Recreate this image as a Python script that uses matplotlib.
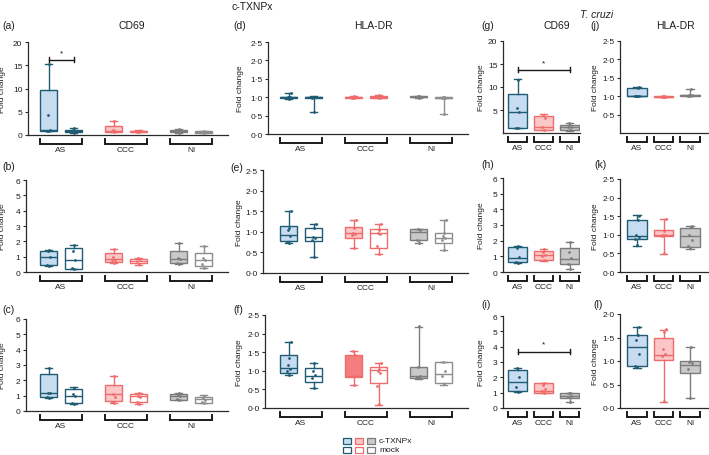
import matplotlib
matplotlib.use('Agg')
import matplotlib.pyplot as plt
from matplotlib.patches import Rectangle
from matplotlib.lines import Line2D
import numpy as np

plt.rcParams['font.family'] = ['Liberation Sans', 'DejaVu Sans']

# ------------------------------------------------------------------ data
groups = ['AS', 'CCC', 'NI']
legend_labels = ['c-TXNPx', 'mock']

# stats per box: [min, q1, median, q3, max]; order AS c-TXNPx, AS mock, CCC c-TXNPx, CCC mock, NI c-TXNPx, NI mock
a_stats = [[0.8, 0.85, 1.0, 9.7, 15.3], [0.45, 0.6, 0.9, 1.15, 1.6], [0.6, 0.7, 0.9, 1.9, 3.0],
           [0.6, 0.7, 0.8, 0.9, 1.0], [0.4, 0.6, 0.9, 1.1, 1.25], [0.4, 0.5, 0.65, 0.8, 0.9]]
a_pts = [[0.8, 0.9, 1.0, 4.2, 15.3], [0.5, 0.7, 0.9, 1.0, 1.5], [0.6, 0.8, 0.9, 1.0, 3.0],
         [0.65, 0.75, 0.8, 0.85, 0.95], [0.5, 0.8, 0.9, 1.0, 1.2], [0.45, 0.6, 0.65, 0.75, 0.85]]

b_stats = [[0.4, 0.43, 1.0, 1.38, 1.42], [0.2, 0.22, 0.78, 1.57, 1.75], [0.6, 0.68, 0.83, 1.22, 1.52],
           [0.45, 0.6, 0.75, 0.88, 0.92], [0.5, 0.6, 0.82, 1.4, 1.87], [0.25, 0.4, 0.8, 1.26, 1.7]]
b_pts = [[0.4, 0.45, 1.0, 1.35, 1.42], [0.2, 0.25, 0.8, 1.4, 1.75], [0.6, 0.7, 0.8, 1.0, 1.5],
         [0.5, 0.7, 0.85, 0.9], [0.5, 0.6, 0.85, 0.9, 1.87], [0.25, 0.5, 0.8, 0.9, 1.7]]

c_stats = [[0.85, 0.89, 1.18, 2.4, 2.8], [0.45, 0.54, 1.0, 1.42, 1.55], [0.55, 0.63, 1.1, 1.71, 2.3],
           [0.45, 0.58, 0.95, 1.12, 1.15], [0.7, 0.75, 0.95, 1.08, 1.2], [0.5, 0.55, 0.78, 0.9, 1.05]]
c_pts = [[0.85, 0.9, 1.15, 1.2, 2.8], [0.45, 0.55, 1.0, 1.1, 1.5], [0.55, 0.6, 0.9, 1.1, 2.3],
         [0.45, 0.6, 0.9, 1.0, 1.15], [0.7, 0.8, 0.95, 1.05, 1.15], [0.5, 0.6, 0.75, 0.85, 1.0]]

d_stats = [[0.96, 0.97, 1.0, 1.01, 1.12], [0.6, 0.98, 1.0, 1.01, 1.02], [0.98, 0.985, 1.0, 1.01, 1.02],
           [0.98, 0.99, 1.01, 1.03, 1.05], [0.99, 1.0, 1.01, 1.03, 1.04], [0.55, 0.97, 0.99, 1.0, 1.0]]
d_pts = [[0.96, 0.98, 1.0, 1.0, 1.01, 1.12], [0.6, 0.99, 1.0, 1.0, 1.01], [0.98, 0.99, 1.0, 1.0, 1.02],
         [0.98, 1.0, 1.01, 1.03, 1.05], [0.99, 1.0, 1.01, 1.02, 1.04], [0.55, 0.97, 0.99, 1.0, 1.0]]

e_stats = [[0.72, 0.77, 0.92, 1.13, 1.5], [0.38, 0.78, 0.87, 1.1, 1.18], [0.61, 0.85, 0.96, 1.12, 1.29],
           [0.47, 0.6, 0.97, 1.08, 1.19], [0.72, 0.8, 1.0, 1.07, 1.08], [0.55, 0.73, 0.84, 0.98, 1.29]]
e_pts = [[0.72, 0.75, 0.9, 1.05, 1.1, 1.5], [0.38, 0.8, 0.85, 0.88, 1.1, 1.18], [0.61, 0.93, 0.95, 0.97, 1.1, 1.29],
         [0.47, 0.66, 0.95, 0.97, 1.05, 1.19], [0.72, 0.8, 1.05, 1.07], [0.55, 0.8, 0.85, 0.9, 0.98, 1.29]]

f_stats = [[0.88, 0.95, 1.08, 1.43, 1.77], [0.54, 0.7, 0.86, 1.07, 1.21], [0.63, 0.84, 0.85, 1.43, 1.54],
           [0.09, 0.67, 1.01, 1.1, 1.21], [0.77, 0.8, 0.86, 1.11, 2.19], [0.61, 0.67, 0.91, 1.23, 1.25]]
f_pts = [[0.9, 1.0, 1.05, 1.15, 1.34, 1.77], [0.55, 0.8, 0.9, 1.0, 1.2], [0.63, 0.85, 1.43, 1.54],
         [0.1, 0.6, 0.95, 1.0, 1.05, 1.21], [0.8, 0.82, 0.85, 1.1, 2.2], [0.65, 0.85, 1.0, 1.25]]

# T. cruzi panels: AS, CCC, NI
g_stats = [[1.0, 1.0, 4.6, 8.5, 11.7], [0.65, 0.7, 1.2, 3.6, 4.1], [0.5, 0.55, 1.2, 1.8, 2.2]]
g_pts = [[1.0, 1.0, 4.6, 5.4, 11.6], [0.7, 1.2, 3.3, 4.0], [0.6, 1.2, 1.4, 2.1]]

h_stats = [[0.6, 0.64, 0.92, 1.6, 1.67], [0.71, 0.75, 1.07, 1.35, 1.5], [0.2, 0.49, 0.86, 1.56, 1.9]]
h_pts = [[0.6, 0.65, 0.95, 1.55, 1.65], [0.75, 1.0, 1.1, 1.3, 1.45], [0.2, 0.5, 0.9, 1.28, 1.9]]

i_stats = [[1.07, 1.14, 1.72, 2.45, 2.6], [0.95, 0.96, 1.13, 1.6, 1.65], [0.41, 0.63, 0.76, 0.96, 1.0]]
i_pts = [[1.07, 1.4, 2.05, 2.6], [0.95, 1.1, 1.25, 1.5, 1.65], [0.41, 0.7, 0.8, 0.95, 1.0]]

j_stats = [[1.0, 1.0, 1.0, 1.23, 1.25], [0.98, 0.98, 0.99, 1.0, 1.01], [1.0, 1.0, 1.02, 1.04, 1.2]]
j_pts = [[1.0, 1.0, 1.0, 1.0, 1.23, 1.25], [0.98, 0.99, 0.99, 1.0, 1.01], [1.0, 1.01, 1.02, 1.03, 1.2]]

k_stats = [[0.71, 0.875, 0.96, 1.40, 1.52], [0.49, 0.96, 1.0, 1.13, 1.43], [0.63, 0.67, 0.96, 1.18, 1.25]]
k_pts = [[0.72, 0.9, 0.95, 1.0, 1.4, 1.5], [0.5, 0.98, 1.0, 1.0, 1.1, 1.43], [0.65, 0.7, 0.85, 1.0, 1.2, 1.25]]

l_stats = [[0.85, 0.90, 1.30, 1.56, 1.73], [0.13, 1.03, 1.13, 1.49, 1.65], [0.21, 0.74, 0.91, 0.99, 1.30]]
l_pts = [[0.87, 0.9, 1.15, 1.45, 1.55, 1.73], [0.15, 1.1, 1.15, 1.25, 1.62, 1.68], [0.21, 0.82, 0.95, 0.98, 1.3]]

# significance marks: (box index from, box index to, y)
sig_a = (0, 1, 16.2)
sig_g = (0, 2, 13.7)
sig_i = (0, 2, 3.68)

ticks_20 = [0, 5, 10, 15, 20]
ticks_20g = [5, 10, 15, 20]
ticks_6 = [0, 1, 2, 3, 4, 5, 6]
ticks_25 = [0.0, 0.5, 1.0, 1.5, 2.0, 2.5]
ticks_25j = [0.5, 1.0, 1.5, 2.0, 2.5]
ticks_20l = [0.0, 0.5, 1.0, 1.5, 2.0]

# ------------------------------------------------------------------ style
W, H = 709, 456
fig = plt.figure(figsize=(W / 100, H / 100), dpi=100)

BLUE_F, BLUE_E = '#c8dcf1', '#1f5c74'
PINK_F, PINK_E = '#fac6c6', '#ef6c6c'
GREY_F, GREY_E = '#c9c9c9', '#7c7c7c'
GREY_E2 = '#8e8e8e'
WHITE = '#ffffff'
SPINE = '#2a2a2a'
TXT = '#1e1e1e'

pair_fills = [BLUE_F, WHITE, PINK_F, WHITE, GREY_F, WHITE]
pair_edges = [BLUE_E, BLUE_E, PINK_E, PINK_E, GREY_E, GREY_E2]
tri_fills = [BLUE_F, PINK_F, GREY_F]
tri_edges = [BLUE_E, PINK_E, GREY_E]

pair_pos = [1, 2, 3.6, 4.6, 6.2, 7.2]
pair_w = 0.68
pair_brackets = [(1.5, 0.85), (4.1, 0.85), (6.7, 0.85)]

tri_pos = [1, 2, 3]

TICK_FS = 6.0
LAB_FS = 6.0
TITLE_FS = 7.5


def fmt_dot(v, dec):
    if dec == 0:
        return '%d' % v
    return ('%.1f' % v).replace('.', '\u00b7')


def add_ax(l, t, r, b):
    ax = fig.add_axes([l / W, 1 - b / H, (r - l) / W, (b - t) / H])
    ax.spines['top'].set_visible(False)
    ax.spines['right'].set_visible(False)
    for s in ('left', 'bottom'):
        ax.spines[s].set_color(SPINE)
        ax.spines[s].set_linewidth(0.9)
    ax.tick_params(axis='x', bottom=False, labelbottom=False)
    ax.tick_params(axis='y', direction='out', length=2.5, width=0.8, color=SPINE,
                   labelsize=TICK_FS, pad=1.5, labelcolor=TXT)
    ax.patch.set_alpha(0)
    return ax


def offsets(n):
    pat = [0.0, -0.1, 0.1, -0.05, 0.05, 0.12, -0.12]
    return np.array([pat[i % len(pat)] for i in range(n)])


def draw_boxes(ax, pos, stats, pts, fills, edges, width):
    bx = [dict(whislo=s[0], q1=s[1], med=s[2], q3=s[3], whishi=s[4], fliers=[]) for s in stats]
    art = ax.bxp(bx, positions=pos, widths=width, patch_artist=True, showfliers=False,
                 capwidths=width * 0.4, manage_ticks=False)
    for i, b in enumerate(art['boxes']):
        b.set_facecolor(fills[i])
        b.set_edgecolor(edges[i])
        b.set_linewidth(1.0)
        art['medians'][i].set_color(edges[i])
        art['medians'][i].set_linewidth(1.0)
        for j in (2 * i, 2 * i + 1):
            art['whiskers'][j].set_color(edges[i])
            art['whiskers'][j].set_linewidth(1.0)
            art['caps'][j].set_color(edges[i])
            art['caps'][j].set_linewidth(1.0)
    for i, (x, p) in enumerate(zip(pos, pts)):
        ax.scatter(x + offsets(len(p)) * width, p, s=4, color=edges[i], zorder=4, linewidths=0)


def group_brackets(ax, spans, height_px):
    tr = ax.get_xaxis_transform()
    y1 = -4.0 / height_px
    y2 = -9.0 / height_px
    for (c, hw), g in zip(spans, groups):
        ax.add_line(Line2D([c - hw, c - hw, c + hw, c + hw], [y1, y2, y2, y1], transform=tr,
                           color='#1a1a1a', lw=1.4, clip_on=False, solid_joinstyle='miter'))
        ax.text(c, -11 / height_px, g, transform=tr, ha='center', va='top', fontsize=LAB_FS,
                color=TXT)


def sig_mark(ax, pos, sig, height_px, ymax):
    i0, i1, y = sig
    x0, x1 = pos[i0], pos[i1]
    dy = 2.5 / height_px * ymax
    ax.plot([x0, x1], [y, y], color='#1a1a1a', lw=1.0, clip_on=False)
    for x in (x0, x1):
        ax.plot([x, x], [y - dy, y + dy], color='#1a1a1a', lw=1.0, clip_on=False)
    ax.text((x0 + x1) / 2, y + 1.5 * dy, '*', ha='center', va='bottom', fontsize=6, color='#1a1a1a')


def set_y(ax, lim, ticks, dec, label_x_px, left_px, width_px):
    ax.set_ylim(*lim)
    ax.set_yticks(ticks)
    ax.set_yticklabels([fmt_dot(t, dec) for t in ticks])
    ax.set_ylabel('Fold change', fontsize=LAB_FS, color=TXT)
    ax.yaxis.set_label_coords((label_x_px - left_px) / width_px, 0.5)


def xlim_from_px(l, r, first_px, unit_px):
    return (1 - (first_px - l) / unit_px, 1 + (r - first_px) / unit_px)


# pair panels: (letter, stats, pts, ylim, ticks, decimals, box px(l,t,r,b), ylabel x px, first box px)
pair_panels = [
    ('a', a_stats, a_pts, (0, 20), ticks_20, 0, (28, 43, 228, 136), 6, 48.5),
    ('b', b_stats, b_pts, (0, 6), ticks_6, 0, (26, 181, 228, 273), 6, 48.5),
    ('c', c_stats, c_pts, (0, 6), ticks_6, 0, (26, 320, 228, 412), 6, 48.5),
    ('d', d_stats, d_pts, (0, 2.5), ticks_25, 1, (268, 43, 468, 135), 244, 288.5),
    ('e', e_stats, e_pts, (0, 2.5), ticks_25, 1, (263, 171, 468, 274), 243, 288.5),
    ('f', f_stats, f_pts, (0, 2.5), ticks_25, 1, (265, 316, 468, 409), 243, 288.5),
]
axes = {}
for letter, st, pt, ylim, ticks, dec, (l, t, r, b), lx, fpx in pair_panels:
    ax = add_ax(l, t, r, b)
    fills = list(pair_fills)
    if letter == 'f':
        fills[2] = '#f47e7e'
    draw_boxes(ax, pair_pos, st, pt, fills, pair_edges, pair_w)
    ax.set_xlim(*xlim_from_px(l, r, fpx, 25.0))
    set_y(ax, ylim, ticks, dec, lx, l, r - l)
    group_brackets(ax, pair_brackets, b - t)
    axes[letter] = (ax, b - t, ylim[1])

tri_panels = [
    ('g', g_stats, g_pts, (0, 20), ticks_20g, 0, (503, 42, 580, 134), 485, 517.5, 26.0, 0.7),
    ('h', h_stats, h_pts, (0, 6), ticks_6, 0, (503, 179, 580, 273), 485, 517.5, 26.0, 0.7),
    ('i', i_stats, i_pts, (0, 6), ticks_6, 0, (503, 317, 580, 409), 485, 517.5, 26.0, 0.7),
    ('j', j_stats, j_pts, (0, 2.5), ticks_25j, 1, (620, 42, 708, 134), 599, 637, 26.5, 0.75),
    ('k', k_stats, k_pts, (0, 2.5), ticks_25, 1, (620, 180, 708, 273), 599, 637, 26.5, 0.75),
    ('l', l_stats, l_pts, (0, 2.0), ticks_20l, 1, (620, 315, 708, 409), 599, 637, 26.5, 0.75),
]
for letter, st, pt, ylim, ticks, dec, (l, t, r, b), lx, fpx, upx, w in tri_panels:
    ax = add_ax(l, t, r, b)
    draw_boxes(ax, tri_pos, st, pt, tri_fills, tri_edges, w)
    ax.set_xlim(*xlim_from_px(l, r, fpx, upx))
    set_y(ax, ylim, ticks, dec, lx, l, r - l)
    group_brackets(ax, [(p, 0.37) for p in tri_pos], b - t)
    axes[letter] = (ax, b - t, ylim[1])

ax, hp, ym = axes['a']
sig_mark(ax, pair_pos, sig_a, hp, ym)
ax, hp, ym = axes['g']
sig_mark(ax, tri_pos, sig_g, hp, ym)
ax, hp, ym = axes['i']
sig_mark(ax, tri_pos, sig_i, hp, ym)


def ftext(x, y, s, **kw):
    fig.text(x / W, 1 - y / H, s, **kw)


# panel letters
letters_pos = {'a': (2, 26), 'd': (233, 26), 'g': (481, 26), 'j': (590, 26),
               'b': (2, 167), 'e': (230, 168), 'h': (481, 165), 'k': (594, 165),
               'c': (2, 310), 'f': (233, 310), 'i': (481, 305), 'l': (593, 305)}
for k, (x, y) in letters_pos.items():
    ftext(x, y, '(%s)' % k, ha='left', va='center', fontsize=TITLE_FS, color=TXT)

ftext(132, 26, 'CD69', ha='center', va='center', fontsize=TITLE_FS, color=TXT)
ftext(373, 26, 'HLA-DR', ha='center', va='center', fontsize=TITLE_FS, color=TXT)
ftext(557, 26, 'CD69', ha='center', va='center', fontsize=TITLE_FS, color=TXT)
ftext(675, 26, 'HLA-DR', ha='center', va='center', fontsize=TITLE_FS, color=TXT)
ftext(252, 7, 'c-TXNPx', ha='center', va='center', fontsize=TITLE_FS, color=TXT)
ftext(597, 15, 'T. cruzi', ha='center', va='center', fontsize=TITLE_FS, color=TXT,
      style='italic')

# legend
leg_fill = [[BLUE_F, PINK_F, GREY_F], [WHITE, WHITE, WHITE]]
leg_edge = [BLUE_E, PINK_E, GREY_E]
leg_y = [441.5, 450.5]
leg_x = [343, 355, 367]
for row in range(2):
    for j in range(3):
        x0, y0 = leg_x[j], leg_y[row]
        fig.add_artist(Rectangle((x0 / W, 1 - (y0 + 3) / H), 8 / W, 6 / H,
                                 transform=fig.transFigure, facecolor=leg_fill[row][j],
                                 edgecolor=leg_edge[j], linewidth=0.9))
    ftext(379, leg_y[row], legend_labels[row], ha='left', va='center', fontsize=LAB_FS,
          color=TXT)

fig.savefig('out.png', dpi=100)
